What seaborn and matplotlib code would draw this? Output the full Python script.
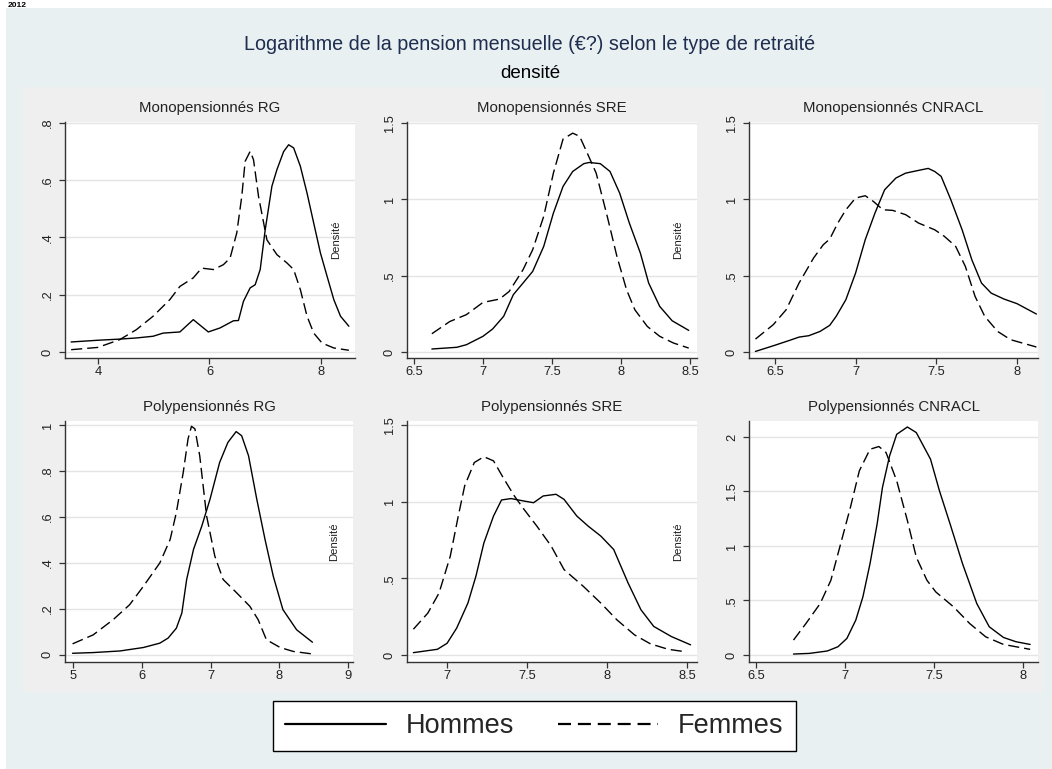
import matplotlib
matplotlib.use("Agg")
import numpy as np
import pandas as pd
import seaborn as sns
import matplotlib.pyplot as plt
from matplotlib.lines import Line2D
from matplotlib.patches import Rectangle
from matplotlib.ticker import FuncFormatter, FixedLocator

sns.set_theme(style="white")
plt.rcParams["font.family"] = ["Liberation Sans", "DejaVu Sans"]

# ---------------- DATA ----------------
title = "Logarithme de la pension mensuelle (€?) selon le type de retraité"
subtitle = "densité"
panel_titles = ["Monopensionnés RG", "Monopensionnés SRE", "Monopensionnés CNRACL",
                "Polypensionnés RG", "Polypensionnés SRE", "Polypensionnés CNRACL"]
series_labels = ["Hommes", "Femmes"]

# Monopensionnés RG
mono_rg_h_x = [3.52, 4.0, 4.39, 4.69, 4.99, 5.17, 5.47, 5.71, 5.98, 6.19, 6.43, 6.52, 6.61, 6.73, 6.82,
               6.91, 7.0, 7.12, 7.21, 7.33, 7.42, 7.51, 7.63, 7.75, 7.87, 7.99, 8.11, 8.23, 8.35, 8.5]
mono_rg_h_y = [0.035, 0.041, 0.045, 0.049, 0.055, 0.066, 0.07, 0.113, 0.07, 0.084, 0.109, 0.11, 0.177, 0.224, 0.235,
               0.288, 0.427, 0.579, 0.637, 0.70, 0.724, 0.713, 0.649, 0.555, 0.45, 0.346, 0.264, 0.183, 0.125, 0.09]
mono_rg_f_x = [3.52, 4.0, 4.39, 4.69, 4.99, 5.29, 5.47, 5.71, 5.86, 6.07, 6.25, 6.37, 6.49, 6.58, 6.64,
               6.73, 6.79, 6.88, 7.03, 7.21, 7.39, 7.51, 7.63, 7.75, 7.87, 8.02, 8.23, 8.5]
mono_rg_f_y = [0.008, 0.016, 0.043, 0.078, 0.125, 0.183, 0.229, 0.259, 0.293, 0.288, 0.305, 0.328, 0.416, 0.544, 0.666,
               0.701, 0.672, 0.544, 0.392, 0.34, 0.311, 0.288, 0.218, 0.125, 0.066, 0.031, 0.014, 0.006]

# Monopensionnés SRE
mono_sre_h_x = [6.63, 6.81, 6.88, 7.0, 7.07, 7.15, 7.22, 7.27, 7.36, 7.44, 7.51, 7.58, 7.65, 7.73, 7.77,
                7.85, 7.92, 7.99, 8.06, 8.14, 8.2, 8.28, 8.37, 8.49]
mono_sre_h_y = [0.02, 0.031, 0.048, 0.103, 0.151, 0.234, 0.376, 0.43, 0.528, 0.692, 0.91, 1.085, 1.183, 1.234, 1.242,
                1.234, 1.183, 1.041, 0.845, 0.648, 0.452, 0.299, 0.205, 0.142]
mono_sre_f_x = [6.63, 6.76, 6.88, 7.0, 7.12, 7.19, 7.29, 7.36, 7.44, 7.51, 7.58, 7.65, 7.7, 7.75, 7.82,
                7.9, 7.97, 8.04, 8.1, 8.19, 8.28, 8.38, 8.49]
mono_sre_f_y = [0.12, 0.2, 0.245, 0.325, 0.347, 0.397, 0.539, 0.67, 0.889, 1.172, 1.395, 1.434, 1.413, 1.314, 1.172,
                0.889, 0.627, 0.408, 0.277, 0.168, 0.103, 0.059, 0.026]

# Monopensionnés CNRACL
mono_cn_h_x = [6.38, 6.49, 6.59, 6.65, 6.71, 6.78, 6.84, 6.88, 6.94, 7.0, 7.06, 7.12, 7.18, 7.21, 7.25,
               7.31, 7.39, 7.45, 7.49, 7.53, 7.59, 7.66, 7.72, 7.78, 7.84, 7.92, 8.0, 8.12]
mono_cn_h_y = [0.004, 0.041, 0.076, 0.098, 0.107, 0.135, 0.175, 0.234, 0.343, 0.517, 0.736, 0.91, 1.063, 1.096, 1.14,
               1.172, 1.19, 1.203, 1.183, 1.151, 0.998, 0.801, 0.605, 0.452, 0.386, 0.347, 0.317, 0.249]
mono_cn_f_x = [6.38, 6.49, 6.57, 6.65, 6.74, 6.8, 6.84, 6.89, 6.94, 7.0, 7.06, 7.11, 7.17, 7.23, 7.31,
               7.39, 7.49, 7.55, 7.62, 7.68, 7.74, 7.8, 7.88, 7.96, 8.12]
mono_cn_f_y = [0.085, 0.179, 0.277, 0.452, 0.616, 0.703, 0.74, 0.845, 0.932, 1.009, 1.024, 0.987, 0.932, 0.928, 0.9,
               0.845, 0.801, 0.758, 0.692, 0.561, 0.365, 0.234, 0.135, 0.081, 0.033]

# Polypensionnés RG
poly_rg_h_x = [4.99, 5.29, 5.68, 6.02, 6.26, 6.38, 6.5, 6.58, 6.65, 6.75, 6.87, 6.99, 7.13, 7.25, 7.37,
               7.45, 7.55, 7.67, 7.79, 7.91, 8.05, 8.25, 8.48]
poly_rg_h_y = [0.007, 0.01, 0.017, 0.032, 0.051, 0.073, 0.116, 0.182, 0.328, 0.459, 0.56, 0.677, 0.837, 0.924, 0.971,
               0.953, 0.866, 0.677, 0.502, 0.342, 0.197, 0.109, 0.055]
poly_rg_f_x = [4.99, 5.29, 5.58, 5.82, 6.02, 6.26, 6.41, 6.5, 6.6, 6.67, 6.72, 6.77, 6.84, 6.94, 7.06,
               7.18, 7.38, 7.57, 7.69, 7.81, 8.01, 8.2, 8.48]
poly_rg_f_y = [0.048, 0.087, 0.153, 0.218, 0.298, 0.4, 0.502, 0.619, 0.793, 0.939, 0.994, 0.983, 0.866, 0.604, 0.429,
               0.328, 0.269, 0.211, 0.153, 0.066, 0.032, 0.015, 0.004]

# Polypensionnés SRE
poly_sre_h_x = [6.79, 6.94, 7.0, 7.06, 7.13, 7.18, 7.23, 7.29, 7.34, 7.4, 7.48, 7.54, 7.6, 7.68, 7.73,
                7.81, 7.88, 7.96, 8.04, 8.13, 8.21, 8.29, 8.4, 8.52]
poly_sre_h_y = [0.015, 0.037, 0.076, 0.175, 0.338, 0.513, 0.731, 0.906, 1.011, 1.02, 1.004, 0.993, 1.037, 1.048, 1.015,
                0.906, 0.841, 0.775, 0.688, 0.469, 0.295, 0.186, 0.12, 0.066]
poly_sre_f_x = [6.79, 6.88, 6.95, 7.02, 7.07, 7.11, 7.17, 7.23, 7.29, 7.35, 7.42, 7.48, 7.56, 7.65, 7.73,
                7.85, 7.96, 8.06, 8.17, 8.27, 8.38, 8.48]
poly_sre_f_y = [0.168, 0.273, 0.404, 0.644, 0.906, 1.103, 1.255, 1.293, 1.266, 1.157, 1.037, 0.95, 0.841, 0.71, 0.557,
                0.448, 0.338, 0.229, 0.131, 0.072, 0.037, 0.022]

# Polypensionnés CNRACL
poly_cn_h_x = [6.71, 6.8, 6.9, 6.96, 7.01, 7.06, 7.1, 7.14, 7.18, 7.21, 7.25, 7.29, 7.35, 7.4, 7.48,
               7.53, 7.59, 7.66, 7.74, 7.81, 7.89, 7.96, 8.04]
poly_cn_h_y = [0.009, 0.015, 0.037, 0.076, 0.152, 0.32, 0.533, 0.837, 1.202, 1.537, 1.826, 2.024, 2.091, 2.04, 1.796,
               1.507, 1.202, 0.837, 0.472, 0.259, 0.161, 0.122, 0.097]
poly_cn_f_x = [6.71, 6.78, 6.86, 6.92, 6.97, 7.03, 7.08, 7.14, 7.19, 7.23, 7.29, 7.35, 7.4, 7.46, 7.51,
               7.61, 7.7, 7.79, 7.89, 7.96, 8.04]
poly_cn_f_y = [0.137, 0.289, 0.472, 0.685, 0.989, 1.355, 1.689, 1.887, 1.912, 1.857, 1.598, 1.233, 0.898, 0.685, 0.578,
               0.441, 0.289, 0.167, 0.097, 0.076, 0.052]

x_ticks = [[4, 6, 8], [6.5, 7, 7.5, 8, 8.5], [6.5, 7, 7.5, 8],
           [5, 6, 7, 8, 9], [7, 7.5, 8, 8.5], [6.5, 7, 7.5, 8]]
y_ticks = [[0, 0.2, 0.4, 0.6, 0.8], [0, 0.5, 1, 1.5], [0, 0.5, 1, 1.5],
           [0, 0.2, 0.4, 0.6, 0.8, 1], [0, 0.5, 1, 1.5], [0, 0.5, 1, 1.5, 2]]
show_densite = [True, True, False, True, True, False]

panels_data = [
    (mono_rg_h_x, mono_rg_h_y, mono_rg_f_x, mono_rg_f_y),
    (mono_sre_h_x, mono_sre_h_y, mono_sre_f_x, mono_sre_f_y),
    (mono_cn_h_x, mono_cn_h_y, mono_cn_f_x, mono_cn_f_y),
    (poly_rg_h_x, poly_rg_h_y, poly_rg_f_x, poly_rg_f_y),
    (poly_sre_h_x, poly_sre_h_y, poly_sre_f_x, poly_sre_f_y),
    (poly_cn_h_x, poly_cn_h_y, poly_cn_f_x, poly_cn_f_y),
]

# ---------------- LAYOUT (pixels) ----------------
W, H = 1052, 769
boxes = [(65, 122, 355, 358), (407, 122, 697, 358), (749, 122, 1038, 358),
         (65, 421, 353, 662), (407, 421, 697, 662), (749, 421, 1038, 662)]
xlims = [(3.41, 8.61), (6.45, 8.55), (6.34, 8.13), (4.88, 9.07), (6.75, 8.56), (6.46, 8.084)]
ylims = [(-0.021, 0.8035), (-0.039, 1.507), (-0.039, 1.507),
         (-0.031, 1.017), (-0.046, 1.526), (-0.064, 2.146)]

fig = plt.figure(figsize=(W / 100, H / 100), dpi=100)
fig.patch.set_facecolor("white")
fig.patches.append(Rectangle((6 / W, 0), 1 - 6 / W, 1 - 8 / H, transform=fig.transFigure,
                             facecolor="#e8f0f2", edgecolor="none", zorder=-10))
fig.patches.append(Rectangle((23 / W, 1 - 692 / H), (1043 - 23) / W, (692 - 87) / H,
                             transform=fig.transFigure, facecolor="#efefef", edgecolor="none", zorder=-9))

fig.text(8 / W, 1 - 7 / H, "2012", fontsize=6, fontweight="bold", color="black",
         ha="left", va="baseline")
fig.text(530 / W, 1 - 45 / H, title, fontsize=14.2, color="#1f2d4e", ha="center", va="center")
fig.text(530 / W, 1 - 73 / H, subtitle, fontsize=13.5, color="black", ha="center", va="center")


def stata_fmt(v, pos):
    s = f"{v:g}"
    if s.startswith("0."):
        s = s[1:]
    return s


dash_f = (8, 3.6)
for i, (x0, y0, x1, y1) in enumerate(boxes):
    ax = fig.add_axes([x0 / W, 1 - y1 / H, (x1 - x0) / W, (y1 - y0) / H])
    ax.set_facecolor("white")
    hx, hy, fx, fy = panels_data[i]
    df = pd.DataFrame({
        "x": list(hx) + list(fx),
        "y": list(hy) + list(fy),
        "sexe": [series_labels[0]] * len(hx) + [series_labels[1]] * len(fx),
    })
    sns.lineplot(data=df, x="x", y="y", style="sexe", units="sexe", estimator=None, sort=False,
                 dashes={series_labels[0]: "", series_labels[1]: dash_f},
                 color="black", linewidth=1.0, legend=False, ax=ax)
    ax.set_xlim(*xlims[i])
    ax.set_ylim(*ylims[i])
    ax.xaxis.set_major_locator(FixedLocator(x_ticks[i]))
    ax.yaxis.set_major_locator(FixedLocator(y_ticks[i]))
    ax.xaxis.set_major_formatter(FuncFormatter(stata_fmt))
    ax.yaxis.set_major_formatter(FuncFormatter(stata_fmt))
    ax.set_xlabel("")
    ax.set_ylabel("")
    for yt in y_ticks[i]:
        ax.axhline(yt, color="#e4e4e4", lw=1.0, zorder=0)
    for side in ["top", "right"]:
        ax.spines[side].set_visible(False)
    for side in ["left", "bottom"]:
        ax.spines[side].set_color("#333333")
        ax.spines[side].set_linewidth(1.0)
    ax.tick_params(axis="both", which="major", direction="out", length=4, width=0.9,
                   color="#333333", labelsize=9.3, labelcolor="#222222",
                   bottom=True, left=True)
    ax.tick_params(axis="x", pad=2)
    ax.tick_params(axis="y", pad=4)
    for lab in ax.get_yticklabels():
        lab.set_rotation(90)
        lab.set_va("center")
    ax.set_title(panel_titles[i], fontsize=10.8, color="#222222", pad=7)
    if show_densite[i]:
        ax.text(0.935, 0.5, "Densité", rotation=90, transform=ax.transAxes,
                ha="center", va="center", fontsize=8.2, color="#222222")

handles = [Line2D([], [], color="black", lw=1.6),
           Line2D([], [], color="black", lw=1.6, dashes=(5.85, 3.1))]
leg = fig.legend(handles=handles, labels=series_labels, loc="center",
                 bbox_to_anchor=(534.5 / W, 1 - 726 / H), ncol=2, fontsize=19.5,
                 handlelength=3.7, columnspacing=1.6, handletextpad=0.75,
                 frameon=True, fancybox=False, edgecolor="black", facecolor="white",
                 framealpha=1, borderpad=0.45, borderaxespad=0)
leg.get_frame().set_linewidth(1.0)

fig.savefig("out.png", dpi=100)
